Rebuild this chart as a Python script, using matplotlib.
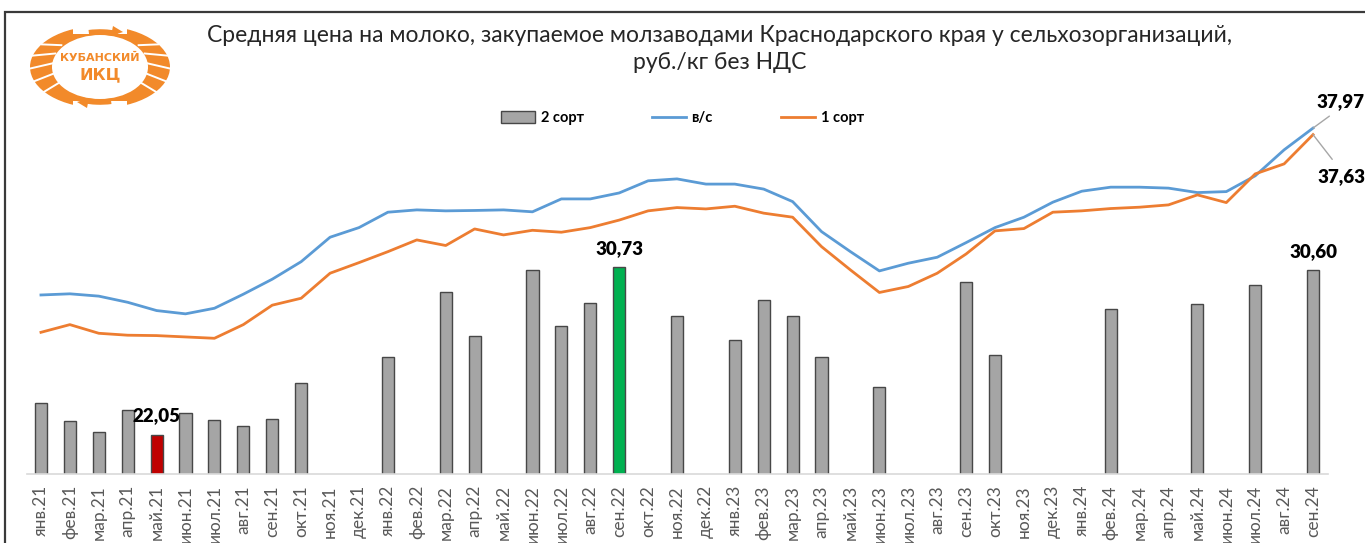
import numpy as np
import matplotlib
matplotlib.use("Agg")
import matplotlib.pyplot as plt
from matplotlib import font_manager
from matplotlib.patches import Ellipse, Rectangle, Arc, Polygon
from matplotlib.lines import Line2D
from matplotlib.patches import Patch

# ---------------- data ----------------
months = ["янв.21", "фев.21", "мар.21", "апр.21", "май.21", "июн.21", "июл.21", "авг.21", "сен.21",
          "окт.21", "ноя.21", "дек.21", "янв.22", "фев.22", "мар.22", "апр.22", "май.22", "июн.22",
          "июл.22", "авг.22", "сен.22", "окт.22", "ноя.22", "дек.22", "янв.23", "фев.23", "мар.23",
          "апр.23", "май.23", "июн.23", "июл.23", "авг.23", "сен.23", "окт.23", "ноя.23", "дек.23",
          "янв.24", "фев.24", "мар.24", "апр.24", "май.24", "июн.24", "июл.24", "авг.24", "сен.24"]

sort2 = [23.67, 22.74, 22.18, 23.31, 22.05, 23.17, 22.81, 22.49, 22.86,
         24.75, None, None, 26.10, None, 29.46, 27.16, None, 30.59,
         27.71, 28.90, 30.73, None, 28.21, None, 26.98, 29.03, 28.21,
         26.10, None, 24.54, None, None, 29.96, 26.17, None, None,
         None, 28.59, None, None, 28.85, None, 29.84, None, 30.60]

vs = [29.30, 29.36, 29.24, 28.92, 28.49, 28.32, 28.61, 29.34, 30.12,
      31.03, 32.30, 32.80, 33.60, 33.72, 33.67, 33.69, 33.72, 33.62,
      34.29, 34.29, 34.60, 35.23, 35.33, 35.06, 35.06, 34.80, 34.15,
      32.59, 31.55, 30.55, 30.95, 31.26, 32.02, 32.80, 33.34, 34.12,
      34.69, 34.90, 34.90, 34.85, 34.62, 34.67, 35.49, 36.84, 37.97]

sort1 = [27.36, 27.76, 27.31, 27.21, 27.19, 27.12, 27.05, 27.76, 28.77,
         29.13, 30.43, 30.98, 31.55, 32.16, 31.87, 32.73, 32.42, 32.66,
         32.56, 32.80, 33.19, 33.67, 33.84, 33.77, 33.91, 33.55, 33.34,
         31.81, 30.60, 29.43, 29.74, 30.43, 31.43, 32.63, 32.75, 33.60,
         33.67, 33.79, 33.86, 33.98, 34.50, 34.10, 35.59, 36.11, 37.63]

min_month = "май.21"
max_month = "сен.22"
last_month = "сен.24"

title = ("Средняя цена на молоко, закупаемое молзаводами Краснодарского края у сельхозорганизаций,\n"
         "руб./кг без НДС")

# ---------------- fonts ----------------
def has_bold(name):
    for f in font_manager.fontManager.ttflist:
        if f.name == name and (f.weight in ("bold", "heavy", "black", "semibold", "demibold")
                               or (isinstance(f.weight, int) and f.weight >= 600)):
            return True
    return False

FONT = "Lato"
BOLD = "Lato" if has_bold("Lato") else ("Open Sans" if has_bold("Open Sans") else "Liberation Sans")

W, H = 1365, 543
plt.rcParams["font.family"] = [FONT, "DejaVu Sans"]

C_BAR = "#a5a5a5"
C_EDGE = "#474747"
C_RED = "#c00000"
C_GREEN = "#00b050"
C_BLUE = "#5b9bd5"
C_ORANGE = "#ed7d31"
C_LOGO = "#f28a2a"

fig = plt.figure(figsize=(W / 100, H / 100), dpi=100)
fig.patch.set_facecolor("white")

# outer frame (cropped chart border)
fig.add_artist(Rectangle((5 / W, -0.1), 1.2, 1 - 12 / H + 0.1, transform=fig.transFigure,
                         fill=False, ec="#3a3a3a", lw=1.6))

ax = fig.add_axes([26.5 / W, 69 / H, 1301 / W, 385 / H])
x = np.arange(len(months))

bx = [i for i, v in enumerate(sort2) if v is not None]
bv = [sort2[i] for i in bx]
colors = []
for i in bx:
    if months[i] == min_month:
        colors.append(C_RED)
    elif months[i] == max_month:
        colors.append(C_GREEN)
    else:
        colors.append(C_BAR)
ax.bar(bx, bv, width=0.42, color=colors, edgecolor=C_EDGE, linewidth=1.0, zorder=2, label="2 сорт")

ax.plot(x, vs, color=C_BLUE, lw=2.0, zorder=3, solid_joinstyle="round", label="в/с")
ax.plot(x, sort1, color=C_ORANGE, lw=2.0, zorder=3, solid_joinstyle="round", label="1 сорт")

ax.set_xlim(-0.5, len(months) - 0.5)
ax.set_ylim(20, 40)
ax.set_xticks(x)
ax.set_xticklabels(months, rotation=90, fontsize=12.5, color="#595959")
ax.tick_params(axis="x", length=0, pad=8)
ax.set_yticks([])
for s in ["left", "right", "top"]:
    ax.spines[s].set_visible(False)
ax.spines["bottom"].set_color("#d9d9d9")
ax.spines["bottom"].set_linewidth(1.2)
ax.set_facecolor("none")

lbl_font = {"family": [BOLD, "DejaVu Sans"], "weight": "heavy", "size": 13.5}

# bar data labels
for m in [min_month, max_month, last_month]:
    i = months.index(m)
    ax.annotate(f"{sort2[i]:.2f}".replace(".", ","), xy=(i, sort2[i]), xytext=(0, 13),
                textcoords="offset pixels", ha="center", va="baseline", color="black", **lbl_font)

# end labels for lines with leader lines
n = len(months) - 1
ax.annotate(f"{vs[n]:.2f}".replace(".", ","), xy=(n, vs[n]), xytext=(27, 21),
            textcoords="offset pixels", ha="center", va="baseline", color="black",
            annotation_clip=False,
            arrowprops=dict(arrowstyle="-", color="#a6a6a6", lw=1.0, shrinkA=4, shrinkB=0,
                            relpos=(0.45, 0.0)), **lbl_font)
ax.annotate(f"{sort1[n]:.2f}".replace(".", ","), xy=(n, sort1[n]), xytext=(28, -47),
            textcoords="offset pixels", ha="center", va="baseline", color="black",
            annotation_clip=False,
            arrowprops=dict(arrowstyle="-", color="#a6a6a6", lw=1.0, shrinkA=5, shrinkB=0,
                            relpos=(0.45, 1.0)), **lbl_font)

# legend
handles = [Patch(facecolor=C_BAR, edgecolor=C_EDGE, lw=1.0),
           Line2D([], [], color=C_BLUE, lw=2.0),
           Line2D([], [], color=C_ORANGE, lw=2.0)]
fig.legend(handles, ["2 сорт", "в/с", "1 сорт"], loc="center", bbox_to_anchor=(0.5, 1 - 118 / H),
           ncol=3, frameon=False, prop={"family": [BOLD, "DejaVu Sans"], "weight": "bold", "size": 10.5},
           handlelength=2.3, handleheight=0.9, handletextpad=0.4, columnspacing=4.7)

# title
fig.text(720 / W, 1 - 49 / H, title, ha="center", va="center", fontsize=16.5,
         color="#262626", linespacing=1.3)

# ---------------- logo ----------------
lax = fig.add_axes([25 / W, 1 - 115 / H, 150 / W, 95 / H])
lax.set_xlim(0, 150)
lax.set_ylim(95, 0)
lax.axis("off")
cx, cy = 75, 47
lax.add_patch(Ellipse((cx, cy), 140, 82, fc=C_LOGO, ec="none"))
lax.add_patch(Ellipse((cx, cy), 96, 64, fc="white", ec="none"))
for ang in [145, 162, 180, 198, 215]:
    t = np.deg2rad(ang)
    for sgn in (1, -1):
        x0 = cx + sgn * 46 * np.cos(t)
        x1 = cx + sgn * 72 * np.cos(t)
        y0 = cy + 31 * np.sin(t)
        y1 = cy + 43 * np.sin(t)
        lax.plot([x0, x1], [y0 - 4, y1 + 2], color="white", lw=1.4, solid_capstyle="butt")
# top / bottom arrows
lax.add_patch(Rectangle((48, 0), 54, 14, fc="white", ec="none"))
lax.add_patch(Rectangle((48, 81), 54, 14, fc="white", ec="none"))
lax.add_patch(Arc((cx, cy), 110, 70, theta1=72, theta2=118, color=C_LOGO, lw=4.0))
lax.add_patch(Polygon([[88, 6], [98, 12], [86, 16]], closed=True, fc=C_LOGO, ec="none"))
lax.add_patch(Arc((cx, cy), 110, 70, theta1=252, theta2=298, color=C_LOGO, lw=4.0))
lax.add_patch(Polygon([[62, 88], [52, 82], [64, 78]], closed=True, fc=C_LOGO, ec="none"))
lax.text(cx, 38, "КУБАНСКИЙ", ha="center", va="center", fontsize=8, fontweight="bold",
         color=C_LOGO, family=["DejaVu Sans"])
lax.text(cx, 55, "ИКЦ", ha="center", va="center", fontsize=11.5, fontweight="bold",
         color=C_LOGO, family=["DejaVu Sans"])

fig.savefig("out.png", dpi=100)
